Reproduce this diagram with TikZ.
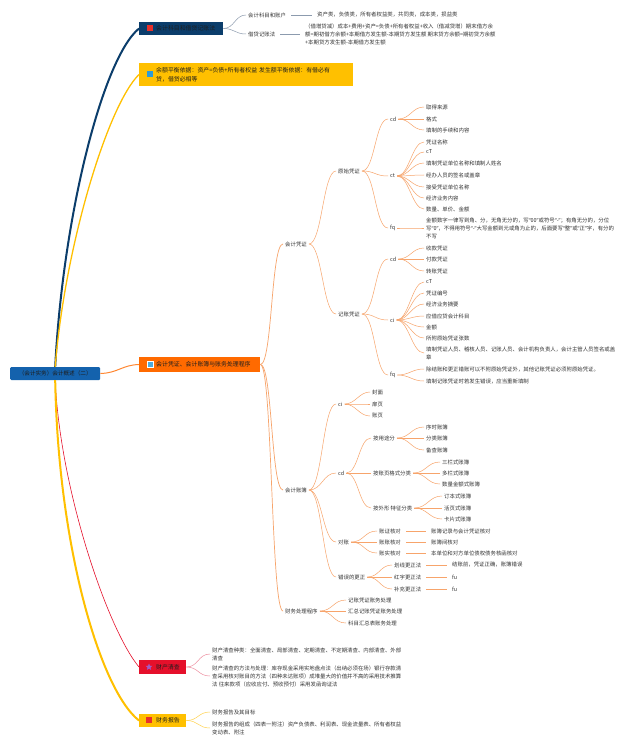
\documentclass[tikz,border=0pt]{standalone}
\usepackage{fontspec}
\setmainfont{Noto Sans CJK SC}
\newfontfamily\latf{Noto Sans}
\newcommand{\qlft}{{\latf “}}
\newcommand{\qrgt}{{\latf ”}}
\usetikzlibrary{shapes.geometric}
\definecolor{navyC}{HTML}{0B3D6B}
\definecolor{rootC}{HTML}{1462AD}
\definecolor{orangeC}{HTML}{FF6A00}
\definecolor{yellowC}{HTML}{FFC000}
\definecolor{redC}{HTML}{E5102B}
\definecolor{txtC}{HTML}{333333}
\definecolor{boxtxt}{HTML}{1E1E1E}
\definecolor{grayL}{HTML}{8C9BAE}
\definecolor{orL}{HTML}{F7A46B}
\definecolor{pinkL}{HTML}{EE8FA0}
\definecolor{ylwL}{HTML}{FFD24D}
\definecolor{iconBlue}{HTML}{2E9BD6}
\definecolor{iconRed}{HTML}{E8302A}
\definecolor{iconPurple}{HTML}{A35BC4}
\newcommand{\mmlink}[4]{\draw[#1] (#2.east) .. controls +(#4,0) and +(-#4,0) .. (#3.west);}
\begin{document}
\begin{tikzpicture}[x=1pt,y=-1pt,
 tx/.style={font=\fontsize{5.4}{8}\selectfont, text=txtC, inner xsep=2pt, inner ysep=0.8pt, anchor=west, align=left},
 mbox/.style={font=\fontsize{5.9}{9}\selectfont, text=boxtxt, inner xsep=0pt, inner ysep=0pt, anchor=west, align=left, rectangle},
 icon/.style={rectangle, minimum size=6pt, inner sep=0pt},
 gl/.style={draw=grayL, line width=0.5pt},
 ol/.style={draw=orL, line width=0.5pt},
 olb/.style={draw=orL, line width=0.7pt},
 pl/.style={draw=pinkL, line width=0.5pt},
 yl/.style={draw=ylwL, line width=0.5pt},
 st/.style={shorten <=3pt, shorten >=3pt}
]
\fill[white] (0,0) rectangle (640,746);
\useasboundingbox (0,0) rectangle (640,746);

% ---------- root ----------
\node[mbox, fill=rootC, text width=90pt, minimum height=13pt, align=center, rounded corners=1.2pt, font=\fontsize{5.6}{8}\selectfont] (root) at (10,373.5) {（会计实务）会计概述（二）};

% ---------- branch 1 ----------
\node[mbox, fill=navyC, text width=84pt, minimum height=13pt] (n1) at (139,28.5) {\hspace*{17pt}会计科目和借贷记账法};
\node[icon, fill=iconRed] (i1) at (149.5,28) {};
\node[tx] (a1) at (246,15) {会计科目和账户};
\node[tx] (a1v) at (315,15) {资产类，负债类，所有者权益类，共同类，成本类，损益类};
\node[tx] (a2) at (246,34) {借贷记账法};
\node[tx] (a2v) at (303,34) {（借增贷减）成本+费用+资产=负债+所有者权益+收入（借减贷增）期末借方余\\额=期初借方余额+本期借方发生额-本期贷方发生额 期末贷方余额=期初贷方余额\\+本期贷方发生额-本期借方发生额};

% ---------- branch 2 ----------
\node[mbox, fill=yellowC, text width=214pt, minimum height=23pt] (n2) at (139,74.5) {\hspace*{17pt}余额平衡依据：资产=负债+所有者权益 发生额平衡依据：有借必有\\\hspace*{17pt}贷，借贷必相等};
\node[icon, fill=iconBlue] (i2) at (150,74) {};

% ---------- branch 3 ----------
\node[mbox, fill=orangeC, text width=121pt, minimum height=15pt] (n3) at (139,364.5) {\hspace*{17pt}会计凭证、会计账簿与账务处理程序};
\node[icon, fill=iconBlue!85!white, draw=white, line width=0.3pt] (i3) at (150,364) {};

\node[tx] (b1) at (283,244) {会计凭证};
\node[tx] (c1) at (336,171) {原始凭证};
\node[tx] (d1) at (388,119) {cd};
\node[tx] (d1a) at (424,107) {取得来源};
\node[tx] (d1b) at (424,119) {格式};
\node[tx] (d1c) at (424,130) {填制的手续和内容};
\node[tx] (d2) at (388,176) {ct};
\node[tx] (d2a) at (424,142) {凭证名称};
\node[tx] (d2b) at (424,152) {cT};
\node[tx] (d2c) at (424,163) {填制凭证单位名称和填制人姓名};
\node[tx] (d2d) at (424,175) {经办人员的签名或盖章};
\node[tx] (d2e) at (424,187) {接受凭证单位名称};
\node[tx] (d2f) at (424,198) {经济业务内容};
\node[tx] (d2g) at (424,209) {数量、单价、金额};
\node[tx] (d3) at (388,228) {fq};
\node[tx] (d3a) at (424,228) {金额数字一律写到角、分，无角无分的，写\qlft 00\qrgt 或符号\qlft -\qrgt ；有角无分的，分位\\写\qlft 0\qrgt ，不得用符号\qlft -\qrgt 大写金额到元或角为止的，后面要写\qlft 整\qrgt 或\qlft 正\qrgt 字，有分的\\不写};

\node[tx] (c2) at (336,314) {记账凭证};
\node[tx] (d4) at (388,259) {cd};
\node[tx] (d4a) at (424,248) {收款凭证};
\node[tx] (d4b) at (424,259) {付款凭证};
\node[tx] (d4c) at (424,271) {转账凭证};
\node[tx] (d5) at (388,320) {ci};
\node[tx] (d5a) at (424,282) {cT};
\node[tx] (d5b) at (424,293) {凭证编号};
\node[tx] (d5c) at (424,304) {经济业务摘要};
\node[tx] (d5d) at (424,316) {应借应贷会计科目};
\node[tx] (d5e) at (424,327) {金额};
\node[tx] (d5f) at (424,338) {所附原始凭证张数};
\node[tx] (d5g) at (424,353) {填制凭证人员、稽核人员、记账人员、会计机构负责人，会计主管人员签名或盖\\章};
\node[tx] (d6) at (388,375) {fq};
\node[tx] (d6a) at (424,369) {除结账和更正错账可以不附原始凭证外，其他记账凭证必须附原始凭证。};
\node[tx] (d6b) at (424,381) {填制记账凭证时若发生错误，应当重新填制};

\node[tx] (b2) at (283,490) {会计账簿};
\node[tx] (c3) at (336,404) {ci};
\node[tx] (c3a) at (370,392) {封面};
\node[tx] (c3b) at (370,404) {扉页};
\node[tx] (c3c) at (370,416) {账页};
\node[tx] (c4) at (336,473) {cd};
\node[tx] (e1) at (371,438) {按用途分};
\node[tx] (e1a) at (424,427) {序时账簿};
\node[tx] (e1b) at (424,438) {分类账簿};
\node[tx] (e1c) at (424,450) {备查账簿};
\node[tx] (e2) at (371,473) {按账页格式分类};
\node[tx] (e2a) at (440,462) {三栏式账簿};
\node[tx] (e2b) at (440,473) {多栏式账簿};
\node[tx] (e2c) at (440,484) {数量金额式账簿};
\node[tx] (e3) at (371,508) {按外形 特征分类};
\node[tx] (e3a) at (442,496) {订本式账簿};
\node[tx] (e3b) at (442,508) {活页式账簿};
\node[tx] (e3c) at (442,519) {卡片式账簿};
\node[tx] (c5) at (336,542) {对账};
\node[tx] (f1) at (377,531) {账证核对};
\node[tx] (f2) at (377,542) {账账核对};
\node[tx] (f3) at (377,553) {账实核对};
\node[tx] (f1v) at (429,531) {账簿记录与会计凭证核对};
\node[tx] (f2v) at (429,542) {账簿间核对};
\node[tx] (f3v) at (429,553) {本单位和对方单位债权债务核函核对};
\node[tx] (c6) at (336,577) {错误的更正};
\node[tx] (g1) at (392,565) {划线更正法};
\node[tx] (g2) at (392,577) {红字更正法};
\node[tx] (g3) at (392,589) {补充更正法};
\node[tx] (g1v) at (450,565) {结账前，凭证正确，账簿错误};
\node[tx] (g2v) at (450,577) {fu};
\node[tx] (g3v) at (450,589) {fu};

\node[tx] (b3) at (283,611) {财务处理程序};
\node[tx] (h1) at (346,600) {记账凭证账务处理};
\node[tx] (h2) at (346,611) {汇总记账凭证账务处理};
\node[tx] (h3) at (346,623) {科目汇总表账务处理};

% ---------- branch 4 ----------
\node[mbox, fill=redC, text width=47pt, minimum height=14pt] (n4) at (139,667) {\hspace*{17pt}财产清查};
\node[star, star points=5, star point ratio=2.2, fill=iconPurple, minimum size=7pt, inner sep=0pt] (i4) at (149,667) {};
\node[tx] (p1) at (210,654) {财产清查种类：全面清查、局部清查、定期清查、不定期清查、内部清查、外部\\清查};
\node[tx] (p2) at (210,676) {财产清查的方法与处理：库存现金采用实地盘点法（出纳必须在场）银行存款清\\查采用核对账目的方法（四种未达账项）成堆量大的价值并不高的采用技术推算\\法 往来款项（应收应付、预收预付）采用发函询证法};

% ---------- branch 5 ----------
\node[mbox, fill=yellowC, text width=47pt, minimum height=13pt] (n5) at (139,720.5) {\hspace*{17pt}财务报告};
\node[icon, fill=iconRed] (i5) at (149,719.5) {};
\node[tx] (q1) at (210,712) {财务报告及其目标};
\node[tx] (q2) at (210,728) {财务报告的组成（四表一附注）资产负债表、利润表、现金流量表、所有者权益\\变动表、附注};

% ---------- main connectors ----------
\draw[draw=navyC, line width=2pt] (root.north) .. controls (63,215) and (103,58) .. (n1.west);
\draw[draw=yellowC, line width=1.3pt] (root.north) .. controls (65,245) and (108,105) .. (n2.west);
\draw[draw=orangeC!80!white, line width=1pt] (root.east) .. controls (118,373) and (122,365) .. (n3.west);
\draw[draw=redC, line width=0.6pt] (root.south) .. controls (60,490) and (108,630) .. (n4.west);
\draw[draw=yellowC, line width=2pt] (root.south) .. controls (58,545) and (100,690) .. (n5.west);

% ---------- branch 1 links ----------
\mmlink{gl}{n1}{a1}{11}
\mmlink{gl}{n1}{a2}{11}
\draw[gl,st] (a1.east) -- (a1v.west);
\draw[gl,st] (a2.east) -- (a2v.west);

% ---------- branch 3 links ----------
\mmlink{olb}{n3}{b1}{12}
\mmlink{olb}{n3}{b2}{12}
\mmlink{olb}{n3}{b3}{12}
\mmlink{ol}{b1}{c1}{13}
\mmlink{ol}{b1}{c2}{13}
\mmlink{ol}{c1}{d1}{13}
\mmlink{ol}{c1}{d2}{13}
\mmlink{ol}{c1}{d3}{13}
\foreach \k in {d1a,d1b,d1c} {\mmlink{ol}{d1}{\k}{12}}
\foreach \k in {d2a,d2b,d2c,d2d,d2e,d2f,d2g} {\mmlink{ol}{d2}{\k}{12}}
\mmlink{ol}{d3}{d3a}{12}
\mmlink{ol}{c2}{d4}{13}
\mmlink{ol}{c2}{d5}{13}
\mmlink{ol}{c2}{d6}{13}
\foreach \k in {d4a,d4b,d4c} {\mmlink{ol}{d4}{\k}{12}}
\foreach \k in {d5a,d5b,d5c,d5d,d5e,d5f,d5g} {\mmlink{ol}{d5}{\k}{12}}
\foreach \k in {d6a,d6b} {\mmlink{ol}{d6}{\k}{12}}
\foreach \k in {c3,c4,c5,c6} {\mmlink{ol}{b2}{\k}{13}}
\foreach \k in {c3a,c3b,c3c} {\mmlink{ol}{c3}{\k}{11}}
\foreach \k in {e1,e2,e3} {\mmlink{ol}{c4}{\k}{12}}
\foreach \k in {e1a,e1b,e1c} {\mmlink{ol}{e1}{\k}{13}}
\foreach \k in {e2a,e2b,e2c} {\mmlink{ol}{e2}{\k}{13}}
\foreach \k in {e3a,e3b,e3c} {\mmlink{ol}{e3}{\k}{13}}
\foreach \k in {f1,f2,f3} {\mmlink{ol}{c5}{\k}{13}}
\foreach \k in {g1,g2,g3} {\mmlink{ol}{c6}{\k}{12}}
\draw[ol,st] (f1.east) -- (f1v.west);
\draw[ol,st] (f2.east) -- (f2v.west);
\draw[ol,st] (f3.east) -- (f3v.west);
\draw[ol,st] (g1.east) -- (g1v.west);
\draw[ol,st] (g2.east) -- (g2v.west);
\draw[ol,st] (g3.east) -- (g3v.west);
\foreach \k in {h1,h2,h3} {\mmlink{ol}{b3}{\k}{13}}

% ---------- branch 4/5 links ----------
\mmlink{pl}{n4}{p1}{12}
\mmlink{pl}{n4}{p2}{12}
\mmlink{yl}{n5}{q1}{12}
\mmlink{yl}{n5}{q2}{12}
\end{tikzpicture}
\end{document}
